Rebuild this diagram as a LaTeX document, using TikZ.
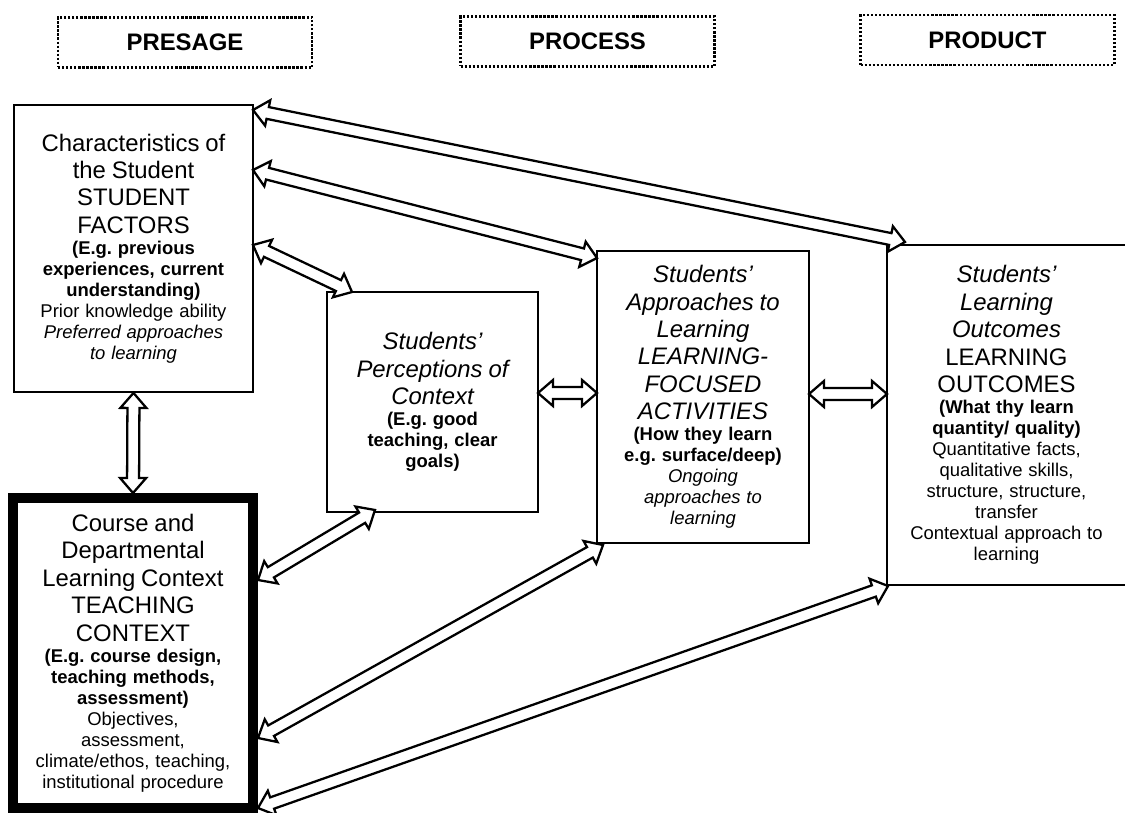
\documentclass[tikz,border=0pt]{standalone}
\usepackage{fontspec}
\setmainfont{Liberation Sans}
\usetikzlibrary{calc}
\frenchspacing

\newcommand\bigline[1]{{\fontsize{13.6pt}{15.65pt}\selectfont #1\par}}
\newcommand\bigital[1]{{\fontsize{13.6pt}{15.65pt}\selectfont\itshape #1\par}}
\newcommand\boldline[1]{{\fontsize{10.5pt}{11.95pt}\selectfont\bfseries #1\par}}
\newcommand\smallline[1]{{\fontsize{10.5pt}{11.95pt}\selectfont #1\par}}
\newcommand\smallital[1]{{\fontsize{10.5pt}{11.95pt}\selectfont\itshape #1\par}}

\newcommand\arrhead{0.3cm}
\newcommand\arrwing{0.26cm}
\newcommand\arrshaft{0.12cm}
\newcommand\dblarrow[2]{%
  \draw[blockarrow] let \p1=($(#2)-(#1)$), \n1={atan2(\y1,\x1)} in
    (#1) -- ($(#1)+(\n1:\arrhead)+(\n1+90:\arrwing)$) -- ($(#1)+(\n1:\arrhead)+(\n1+90:\arrshaft)$)
    -- ($(#2)+(\n1+180:\arrhead)+(\n1+90:\arrshaft)$) -- ($(#2)+(\n1+180:\arrhead)+(\n1+90:\arrwing)$)
    -- (#2) -- ($(#2)+(\n1+180:\arrhead)+(\n1-90:\arrwing)$) -- ($(#2)+(\n1+180:\arrhead)+(\n1-90:\arrshaft)$)
    -- ($(#1)+(\n1:\arrhead)+(\n1-90:\arrshaft)$) -- ($(#1)+(\n1:\arrhead)+(\n1-90:\arrwing)$) -- cycle;}

\tikzset{
  stagebox/.style={draw, line width=1.5pt, dash pattern=on 1.3pt off 1pt,
    minimum width=5.08cm, minimum height=1.0cm,
    font=\fontsize{13.6pt}{15.65pt}\selectfont\bfseries},
  factorbox/.style={draw, line width=1.1pt, fill=white, align=center, inner sep=0pt},
  blockarrow/.style={line width=1.3pt, fill=white, line join=miter},
}

\begin{document}
\begin{tikzpicture}[x=0.02cm, y=-0.02cm]
\useasboundingbox (0,0) rectangle (1125,813);

% stages
\node[stagebox] (presage) at (185,42.5) {PRESAGE};
\node[stagebox] (process) at (587.5,41.5) {PROCESS};
\node[stagebox] (product) at (987.5,40) {PRODUCT};

% boxes
\node[factorbox, minimum width=4.78cm, minimum height=5.74cm, text width=4.6cm] (stu) at (133.5,248.5) {%
  \bigline{Characteristics of\\the Student\\STUDENT\\FACTORS}
  \boldline{(E.g. previous\\experiences, current\\understanding)}
  \smallline{Prior knowledge ability}
  \smallital{Preferred approaches\\to learning}};
\node[factorbox, line width=0.2cm, minimum width=4.8cm, minimum height=6.2cm, text width=4.4cm] (tea) at (133,653) {%
  \bigline{Course and\\Departmental\\Learning Context\\TEACHING\\CONTEXT}
  \boldline{(E.g. course design,\\teaching methods,\\assessment)}
  \smallline{Objectives,\\assessment,\\climate/ethos, teaching,\\institutional procedure}};
\node[factorbox, minimum width=4.22cm, minimum height=4.4cm, text width=4.0cm] (per) at (432.5,402) {%
  \bigital{Students’\\Perceptions of\\Context}
  \boldline{(E.g. good\\teaching, clear\\goals)}};
\node[factorbox, minimum width=4.24cm, minimum height=5.84cm, text width=4.0cm] (app) at (703,397) {%
  \bigital{Students’\\Approaches to\\Learning\\LEARNING-\\FOCUSED\\ACTIVITIES}
  \boldline{(How they learn\\e.g. surface/deep)}
  \smallital{Ongoing\\approaches to\\learning}};
\node[factorbox, minimum width=4.78cm, minimum height=6.8cm, text width=4.6cm] (out) at (1006.5,415) {%
  \bigital{Students’\\Learning\\Outcomes}
  \bigline{LEARNING\\OUTCOMES}
  \boldline{(What thy learn\\quantity/ quality)}
  \smallline{Quantitative facts,\\qualitative skills,\\structure, structure,\\transfer\\Contextual approach to\\learning}};

% arrow ends
\coordinate (stuA) at (253,110);  \coordinate (outA) at (905,242);
\coordinate (stuB) at (253,170);  \coordinate (appA) at (597,258);
\coordinate (stuC) at (253,245);  \coordinate (perA) at (352,292);
\coordinate (perB) at (538,393);  \coordinate (appB) at (597,393);
\coordinate (appC) at (809,394);  \coordinate (outB) at (887,394);
\coordinate (teaA) at (258,580);  \coordinate (perC) at (375,510);
\coordinate (teaB) at (258,738);  \coordinate (appD) at (603,545);
\coordinate (teaC) at (258,808);  \coordinate (outC) at (888,586);

\dblarrow{stuA}{outA}
\dblarrow{stuB}{appA}
\dblarrow{stuC}{perA}
\dblarrow{stu.south}{tea.north}
\dblarrow{perB}{appB}
\dblarrow{appC}{outB}
\dblarrow{teaA}{perC}
\dblarrow{teaB}{appD}
\dblarrow{teaC}{outC}
\end{tikzpicture}
\end{document}
